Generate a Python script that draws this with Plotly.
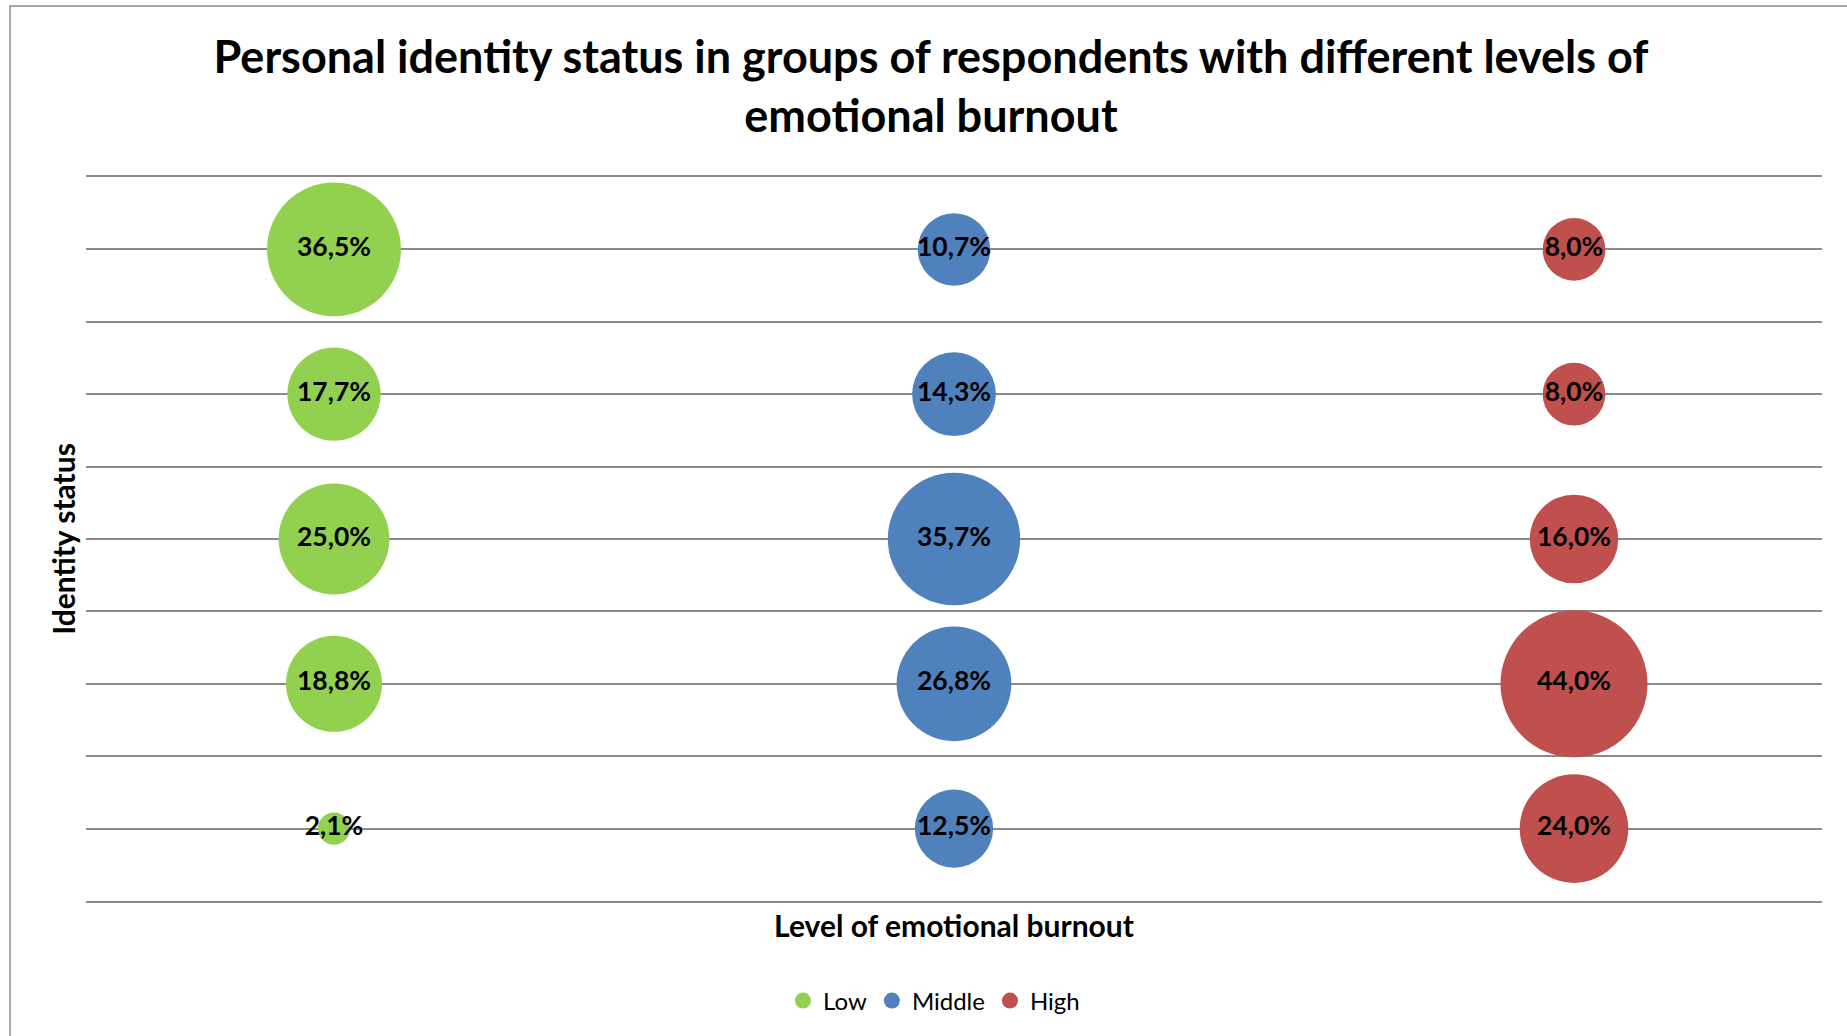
import plotly.graph_objects as go

# Burnout groups on the x axis, identity-status rows on the y axis (5 = top row)
burnout_levels = ["Low", "Middle", "High"]
level_positions = [1, 2, 3]
status_rows = [5, 4, 3, 2, 1]

low_values = [36.5, 17.7, 25.0, 18.8, 2.1]
middle_values = [10.7, 14.3, 35.7, 26.8, 12.5]
high_values = [8.0, 8.0, 16.0, 44.0, 24.0]

series_values = [low_values, middle_values, high_values]
series_colors = ["#92D050", "#4F81BD", "#C0504D"]

W, H = 1847, 1036
L, R, T, B = 86, 25, 177, 135
FONT = "Lato"
GRID = "#8a8a8a"

max_value = max(max(v) for v in series_values)
max_diameter = 147
sizeref = 2.0 * max_value / (max_diameter ** 2)


def fmt(v):
    return f"{v:.1f}%".replace(".", ",")


fig = go.Figure()
for name, xpos, values, color in zip(burnout_levels, level_positions, series_values, series_colors):
    fig.add_trace(go.Scatter(
        x=[xpos] * len(values),
        y=status_rows,
        mode="markers+text",
        name=name,
        text=[fmt(v) for v in values],
        textposition="middle center",
        textfont=dict(family=FONT, size=26.5, color="black", weight="bold"),
        marker=dict(size=values, sizemode="area", sizeref=sizeref,
                    color=color, line=dict(width=0), opacity=1),
        cliponaxis=False,
        hoverinfo="skip",
    ))

plot_w = W - L - R
plot_h = H - T - B


def px_to_paper_x(px):
    return (px - L) / plot_w


def px_to_paper_y(py):
    return (H - B - py) / plot_h


fig.update_layout(
    width=W, height=H,
    margin=dict(l=L, r=R, t=T, b=B),
    paper_bgcolor="white", plot_bgcolor="white",
    font=dict(family=FONT, color="black"),
    title=dict(
        text="Personal identity status in groups of respondents with different levels of<br>emotional burnout",
        font=dict(family=FONT, size=45, color="black", weight="bold"),
        x=931 / W, xref="container", xanchor="center",
        y=1 - 73 / H, yref="container", yanchor="middle",
    ),
    xaxis=dict(
        range=[0.6, 3.4], showgrid=False, zeroline=False,
        showticklabels=False, ticks="",
        showline=True, mirror=True, linecolor=GRID, linewidth=1.5,
        title=dict(text="Level of emotional burnout",
                   font=dict(family=FONT, size=30, color="black", weight="bold"),
                   standoff=14),
        automargin=False, fixedrange=True,
    ),
    yaxis=dict(
        range=[0.5, 5.5], dtick=0.5, tick0=0.5,
        showgrid=True, gridcolor=GRID, gridwidth=1.5,
        zeroline=False, showticklabels=False, ticks="", showline=False,
        title=dict(text="Identity status",
                   font=dict(family=FONT, size=30, color="black", weight="bold"),
                   standoff=0),
        automargin=False, fixedrange=True,
    ),
    showlegend=True,
    legend=dict(
        orientation="h", itemsizing="trace",
        x=px_to_paper_x(934), xanchor="center",
        y=px_to_paper_y(1001), yanchor="middle",
        font=dict(family=FONT, size=24, color="black"),
        bgcolor="rgba(0,0,0,0)", itemclick=False, itemdoubleclick=False,
    ),
    shapes=[dict(
        type="rect", xref="paper", yref="paper",
        x0=px_to_paper_x(10), x1=px_to_paper_x(1870),
        y0=px_to_paper_y(1060), y1=px_to_paper_y(6),
        line=dict(color="#8c8c8c", width=1.5), fillcolor="rgba(0,0,0,0)",
        layer="below",
    )],
)

fig.write_html("out.html")
